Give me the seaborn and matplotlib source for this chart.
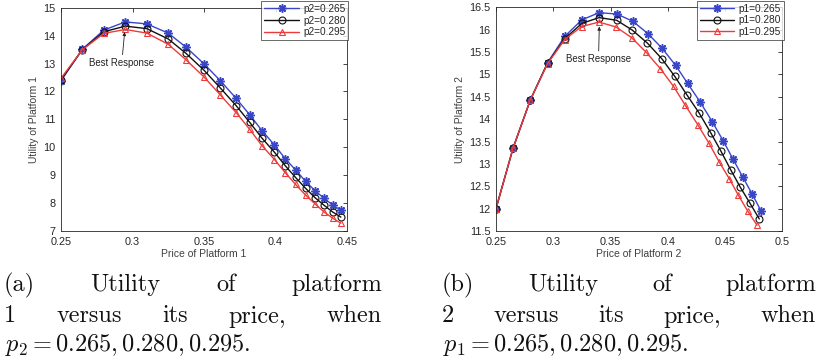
import matplotlib
matplotlib.use("Agg")
import matplotlib.pyplot as plt
import seaborn as sns

# ---- data ----
# (a) utility of platform 1 vs its own price, for three values of p2
price1 = [0.25, 0.265, 0.28, 0.295, 0.31, 0.325, 0.3375, 0.35, 0.3615, 0.3725,
          0.382, 0.3905, 0.3993, 0.4068, 0.414, 0.421, 0.4275, 0.434, 0.440, 0.4457]
u1_p2_265 = [12.38, 13.52, 14.20, 14.49, 14.42, 14.09, 13.58, 12.99, 12.38, 11.75,
             11.16, 10.60, 10.08, 9.59, 9.19, 8.78, 8.45, 8.17, 7.93, 7.74]
u1_p2_280 = [12.42, 13.50, 14.14, 14.34, 14.25, 13.88, 13.36, 12.76, 12.12, 11.49,
             10.89, 10.33, 9.82, 9.34, 8.92, 8.53, 8.20, 7.92, 7.68, 7.50]
u1_p2_295 = [12.47, 13.50, 14.08, 14.22, 14.09, 13.69, 13.13, 12.52, 11.87, 11.24,
             10.64, 10.06, 9.56, 9.09, 8.67, 8.29, 7.98, 7.68, 7.46, 7.28]

# (b) utility of platform 2 vs its own price, for three values of p1
price2_p1_265 = [0.25, 0.265, 0.28, 0.295, 0.31, 0.325, 0.34, 0.3554, 0.3694, 0.3827,
                 0.3952, 0.4069, 0.4173, 0.4281, 0.4389, 0.4485, 0.4569, 0.4654, 0.4738, 0.4814]
u2_p1_265 = [12.00, 13.36, 14.43, 15.26, 15.85, 16.22, 16.38, 16.35, 16.19, 15.91,
             15.58, 15.20, 14.80, 14.39, 13.94, 13.51, 13.11, 12.71, 12.32, 11.95]
price2_p1_280 = [0.25, 0.265, 0.28, 0.295, 0.31, 0.325, 0.34, 0.3554, 0.369, 0.3822,
                 0.3948, 0.4060, 0.4165, 0.4273, 0.4374, 0.4465, 0.4549, 0.4633, 0.4718, 0.4799]
u2_p1_280 = [12.00, 13.36, 14.43, 15.25, 15.80, 16.14, 16.27, 16.21, 15.99, 15.70,
             15.35, 14.96, 14.55, 14.14, 13.70, 13.28, 12.87, 12.48, 12.12, 11.77]
price2_p1_295 = [0.25, 0.265, 0.28, 0.295, 0.31, 0.3247, 0.34, 0.3548, 0.3685, 0.3813,
                 0.3935, 0.4051, 0.4153, 0.4261, 0.4360, 0.4450, 0.4537, 0.4616, 0.4697, 0.4779]
u2_p1_295 = [12.00, 13.36, 14.43, 15.24, 15.78, 16.07, 16.17, 16.06, 15.82, 15.49,
             15.13, 14.73, 14.31, 13.88, 13.46, 13.04, 12.67, 12.30, 11.95, 11.63]

legend_a = ["p2=0.265", "p2=0.280", "p2=0.295"]
legend_b = ["p1=0.265", "p1=0.280", "p1=0.295"]

xticks_a = [0.25, 0.3, 0.35, 0.4, 0.45]
xticklabels_a = ["0.25", "0.3", "0.35", "0.4", "0.45"]
yticks_a = [7, 8, 9, 10, 11, 12, 13, 14, 15]
yticklabels_a = ["7", "8", "9", "10", "11", "12", "13", "14", "15"]
xticks_b = [0.25, 0.3, 0.35, 0.4, 0.45, 0.5]
xticklabels_b = ["0.25", "0.3", "0.35", "0.4", "0.45", "0.5"]
yticks_b = [11.5, 12, 12.5, 13, 13.5, 14, 14.5, 15, 15.5, 16, 16.5]
yticklabels_b = ["11.5", "12", "12.5", "13", "13.5", "14", "14.5", "15", "15.5", "16", "16.5"]

caption_a = [["(a)", "Utility", "of", "platform"],
             ["1", "versus", "its", "price,", "when"]]
caption_a_math = r"$p_2 = 0.265,0.280,0.295.$"
caption_b = [["(b)", "Utility", "of", "platform"],
             ["2", "versus", "its", "price,", "when"]]
caption_b_math = r"$p_1 = 0.265,0.280,0.295.$"

# ---- styling ----
sns.set_theme(style="white")
plt.rcParams["font.family"] = ["Liberation Sans", "DejaVu Sans"]
plt.rcParams["mathtext.fontset"] = "cm"

BLUE = "#3a46c8"
BLACK = "#111111"
RED = "#ee3a3a"
AX = "#262626"
series_style = [
    dict(color=BLUE, marker=(8, 2, 0), markerfacecolor=BLUE, markeredgecolor=BLUE,
         markersize=6, markeredgewidth=1.1),
    dict(color=BLACK, marker="o", markerfacecolor="none", markeredgecolor=BLACK,
         markersize=5, markeredgewidth=0.8),
    dict(color=RED, marker="^", markerfacecolor="none", markeredgecolor=RED,
         markersize=5, markeredgewidth=0.8),
]

W, H = 821, 359
fig = plt.figure(figsize=(W / 100, H / 100), dpi=100)
ax_a = fig.add_axes([61 / W, 1 - 231 / H, 286 / W, (231 - 7.7) / H])
ax_b = fig.add_axes([496 / W, 1 - 231 / H, 286.3 / W, (231 - 7.3) / H])


def draw_panel(ax, xs, ys, labels, xlim, ylim, xt, xtl, yt, ytl, xlabel, ylabel,
               tip, tail):
    for x, y, lab, st in zip(xs, ys, labels, series_style):
        sns.lineplot(x=x, y=y, ax=ax, label=lab, sort=False, estimator=None,
                     linewidth=1.0, **st)
    ax.set_xlim(*xlim)
    ax.set_ylim(*ylim)
    ax.set_xticks(xt)
    ax.set_xticklabels(xtl)
    ax.set_yticks(yt)
    ax.set_yticklabels(ytl)
    ax.tick_params(direction="in", length=3, width=0.6, top=True, right=True,
                   labelsize=7.8, colors=AX)
    ax.tick_params(axis="x", pad=4.5)
    ax.tick_params(axis="y", pad=4)
    for s in ax.spines.values():
        s.set_color(AX)
        s.set_linewidth(0.6)
    ax.set_xlabel(xlabel, fontsize=7.5, color="#404040", labelpad=1)
    ax.set_ylabel(ylabel, fontsize=7.5, color="#404040", labelpad=3)
    ax.annotate("Best Response", xy=tip, xytext=tail, fontsize=6.9, color="#222222",
                ha="center", va="top",
                arrowprops=dict(arrowstyle="-|>", color="#222222", lw=0.6,
                                mutation_scale=5, shrinkA=0, shrinkB=0))
    leg = ax.legend(loc="upper right", bbox_to_anchor=(1.005, 1.03), fontsize=7.3,
                    frameon=True, fancybox=False, edgecolor=AX, handlelength=3.4,
                    handletextpad=0.4, borderpad=0.3, labelspacing=0.15,
                    borderaxespad=0)
    leg.get_frame().set_linewidth(0.6)


draw_panel(ax_a, [price1, price1, price1], [u1_p2_265, u1_p2_280, u1_p2_295], legend_a,
           (0.25, 0.45), (7, 15), xticks_a, xticklabels_a, yticks_a, yticklabels_a,
           "Price of Platform 1", "Utility of Platform 1",
           tip=(0.2945, 14.13), tail=(0.2925, 13.2))
draw_panel(ax_b, [price2_p1_265, price2_p1_280, price2_p1_295],
           [u2_p1_265, u2_p1_280, u2_p1_295], legend_b,
           (0.25, 0.5), (11.5, 16.5), xticks_b, xticklabels_b, yticks_b, yticklabels_b,
           "Price of Platform 2", "Utility of Platform 2",
           tip=(0.3402, 16.07), tail=(0.3395, 15.45))

# ---- captions (justified, LaTeX-like) ----
renderer = fig.canvas.get_renderer()
CAP = 17.5


def justified(words, x0, x1, y, size=CAP):
    texts = [fig.text(x0 / W, 1 - y / H, w, fontsize=size, family="cmr10",
                      va="baseline", ha="left", color="#111111") for w in words]
    widths = [t.get_window_extent(renderer).width for t in texts]
    gap = (x1 - x0 - sum(widths)) / (len(words) - 1)
    x = x0
    for t, w in zip(texts, widths):
        t.set_x(x / W)
        x += w + gap


for words, base in zip(caption_a, [291, 322.5]):
    justified(words, 4, 382, base)
for words, base in zip(caption_b, [291, 322.5]):
    justified(words, 442, 816, base)
fig.text(5 / W, 1 - 351 / H, caption_a_math, fontsize=CAP, va="baseline", color="#111111")
fig.text(443 / W, 1 - 351 / H, caption_b_math, fontsize=CAP, va="baseline", color="#111111")

fig.savefig("out.png", dpi=100)
